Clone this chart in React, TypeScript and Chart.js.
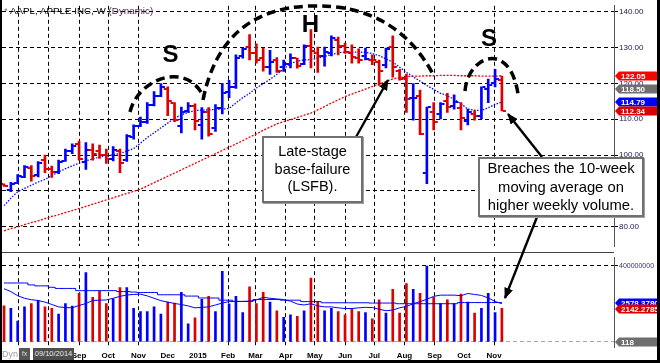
import React, { useEffect, useRef } from 'react';
import { Chart, registerables } from 'chart.js';

Chart.register(...registerables);

// ---------------- data ----------------
const firstWeekUTC = Date.UTC(2014, 5, 16); // week of the first bar
const WEEK_MS = 7 * 24 * 3600 * 1000;

const highs = [
  92.0, 92.4, 94.6, 97.1, 97.1, 98.2, 100.0, 96.9, 98.6, 101.7,
  103.1, 103.9, 103.5, 103.1, 102.8, 101.7, 102.4, 101.7, 105.7, 108.4,
  110.6, 114.6, 117.7, 119.9, 119.0, 114.6, 113.4, 114.6, 114.3, 113.2,
  113.2, 114.1, 120.0, 120.8, 127.9, 129.8, 133.6, 131.0, 129.8, 129.2,
  127.2, 126.5, 128.2, 127.0, 130.7, 135.0, 130.1, 130.1, 133.2, 132.9,
  131.2, 130.7, 129.6, 129.8, 127.9, 126.5, 129.8, 133.2, 123.9, 122.5,
  119.9, 118.1, 113.4, 114.6, 114.6, 117.2, 116.8, 114.6, 112.8, 112.4,
  119.0, 121.2, 123.9, 122.0,
];
const lows = [
  91.3, 89.8, 92.0, 93.7, 92.7, 93.9, 95.1, 93.8, 94.8, 98.2,
  100.4, 98.6, 96.0, 98.6, 99.1, 97.7, 98.4, 95.1, 98.2, 104.4,
  107.9, 108.8, 113.7, 116.3, 111.0, 109.3, 106.2, 111.9, 107.0, 104.4,
  105.3, 106.6, 111.5, 116.0, 118.6, 127.0, 126.5, 125.6, 123.4, 122.5,
  123.0, 123.3, 124.3, 124.2, 125.2, 124.3, 123.0, 124.8, 127.6, 127.9,
  128.3, 125.6, 125.6, 126.5, 125.2, 119.4, 124.3, 121.7, 120.9, 111.9,
  109.7, 105.7, 92.0, 107.0, 110.1, 111.9, 112.8, 107.0, 108.4, 109.7,
  110.1, 114.6, 119.0, 112.3,
];
const opens = [
  91.9, 90.4, 92.3, 94.0, 96.5, 94.5, 98.5, 96.0, 95.4, 98.4,
  101.0, 103.0, 98.0, 101.5, 101.0, 100.0, 99.0, 101.0, 98.5, 105.0,
  108.2, 109.3, 114.0, 116.6, 118.5, 114.5, 108.0, 112.2, 113.6, 108.5,
  112.0, 107.5, 113.0, 117.5, 119.0, 127.5, 130.0, 128.5, 127.0, 124.5,
  126.5, 124.5, 125.5, 127.0, 125.5, 130.5, 128.5, 127.5, 128.5, 132.0,
  130.5, 128.5, 127.0, 127.5, 126.5, 126.0, 125.0, 130.0, 123.5, 121.5,
  116.0, 116.5, 94.9, 112.0, 111.5, 115.0, 113.7, 113.0, 109.5, 111.5,
  111.0, 118.5, 120.0, 121.0,
];
const closes = [
  91.5, 92.0, 94.2, 96.6, 94.3, 97.7, 96.0, 95.3, 98.0, 101.2,
  102.6, 99.0, 101.3, 100.2, 100.0, 99.0, 101.4, 97.7, 105.2, 108.0,
  109.2, 114.0, 116.5, 118.9, 115.0, 109.8, 112.0, 113.6, 109.4, 112.0,
  106.0, 113.0, 117.2, 119.0, 127.1, 129.5, 128.5, 126.6, 124.5, 125.9,
  123.3, 125.3, 127.1, 124.8, 130.3, 129.0, 127.6, 128.8, 132.5, 130.3,
  128.7, 127.2, 126.6, 126.8, 126.4, 123.3, 129.6, 124.5, 121.3, 115.5,
  116.0, 105.8, 113.3, 109.3, 114.2, 113.5, 114.7, 110.4, 112.1, 111.0,
  119.0, 119.5, 121.1, 112.34,
];
const ma10 = [
  85.9, 88.0, 89.8, 90.7, 91.6, 92.5, 93.2, 94.3, 95.3, 96.2,
  97.0, 97.7, 98.4, 98.9, 99.5, 99.8, 100.1, 100.4, 101.1, 101.8,
  103.3, 104.9, 106.2, 107.6, 108.9, 110.3, 111.2, 111.9, 112.4, 112.5,
  112.6, 112.7, 112.8, 113.0, 114.5, 116.0, 117.2, 118.7, 119.9, 121.1,
  122.5, 124.0, 125.5, 126.2, 126.5, 126.6, 127.0, 127.5, 128.0, 128.5,
  128.7, 128.7, 128.7, 128.6, 128.3, 127.7, 126.8, 125.9, 124.5, 123.0,
  121.8, 120.6, 119.4, 118.3, 117.2, 116.6, 115.5, 114.3, 112.8, 112.5,
  112.4, 113.2, 114.1, 114.79,
];
const ma40 = [
  78.9, 79.5, 80.0, 80.6, 81.2, 81.7, 82.3, 82.9, 83.4, 84.0,
  84.5, 85.1, 85.7, 86.3, 86.9, 87.5, 88.1, 88.7, 89.3, 89.9,
  90.5, 91.4, 92.3, 93.2, 94.1, 95.0, 95.9, 96.8, 97.7, 98.6,
  99.5, 100.4, 101.3, 102.2, 103.1, 104.0, 105.0, 105.9, 106.9, 107.8,
  108.7, 109.3, 109.9, 110.5, 111.1, 111.7, 112.6, 113.5, 114.5, 115.4,
  116.3, 117.0, 117.7, 118.4, 119.1, 119.8, 120.5, 121.2, 121.6, 121.8,
  122.0, 122.0, 122.1, 122.1, 122.2, 122.2, 122.2, 122.1, 122.1, 122.1,
  122.0, 122.0, 122.0, 122.05,
];
// weekly volume, millions of shares
const volumes = [
  190, 176, 109, 184, 201, 218, 184, 176, 146, 201,
  189, 256, 365, 234, 268, 201, 226, 285, 285, 176,
  159, 159, 184, 146, 209, 204, 260, 95, 126, 224,
  239, 159, 371, 200, 239, 154, 290, 201, 260, 209,
  164, 129, 143, 134, 164, 335, 214, 164, 176, 159,
  143, 176, 159, 154, 121, 221, 151, 276, 151, 306,
  276, 256, 399, 234, 201, 221, 201, 251, 209, 151,
  176, 256, 154, 176,
];
const volAvgFast = [
  279.5, 264.5, 242.9, 229.4, 221.8, 217.8, 209.3, 196.7, 184.2, 180.7,
  179.2, 191.7, 201.8, 217.8, 219.3, 220.8, 229.4, 239.4, 246.9, 249.4,
  250.9, 241.9, 229.4, 216.8, 209.3, 201.8, 196.7, 189.2, 179.2, 181.7,
  184.2, 194.2, 204.3, 211.8, 212.8, 212.8, 214.3, 220.8, 234.4, 229.4,
  225.8, 222.8, 214.3, 199.2, 194.2, 200.8, 189.2, 184.2, 184.2, 179.2,
  175.7, 175.7, 179.2, 181.7, 180.7, 171.6, 164.1, 167.6, 179.2, 186.7,
  200.8, 211.8, 224.3, 239.4, 245.9, 245.9, 245.9, 242.9, 254.5, 249.4,
  244.4, 230.9, 212.8, 200.8,
];
const volAvgSlow = [
  309.7, 309.7, 309.7, 309.7, 299.6, 294.6, 294.6, 287.1, 281.0, 281.0,
  281.0, 269.5, 269.5, 269.5, 269.5, 269.5, 269.5, 264.5, 264.5, 262.0,
  259.5, 259.5, 259.5, 247.9, 247.9, 247.9, 247.9, 240.9, 240.9, 230.9,
  230.9, 230.9, 219.3, 219.3, 212.8, 212.8, 212.8, 222.8, 222.8, 222.8,
  222.8, 219.3, 219.3, 219.3, 211.8, 211.8, 211.8, 205.8, 205.8, 205.8,
  205.8, 205.8, 205.8, 205.8, 204.3, 204.3, 204.3, 204.3, 200.8, 200.8,
  200.8, 200.8, 200.8, 200.8, 200.8, 200.8, 200.8, 206.8, 206.8, 206.8,
  206.8, 206.8, 206.8, 206.8,
];

const monthStarts = [
  [2014, 6], [2014, 7], [2014, 8], [2014, 9], [2014, 10], [2014, 11],
  [2015, 0], [2015, 1], [2015, 2], [2015, 3], [2015, 4], [2015, 5],
  [2015, 6], [2015, 7], [2015, 8], [2015, 9], [2015, 10],
];
const monthLabels = ['', '', 'Sep', 'Oct', 'Nov', 'Dec', '2015', 'Feb', 'Mar', 'Apr', 'May', 'Jun', 'Jul', 'Aug', 'Sep', 'Oct', 'Nov'];
const monthHasGrid = [1, 1, 1, 1, 1, 0, 0, 1, 1, 1, 1, 1, 1, 1, 1, 0, 1];

const priceTicks = [80, 90, 100, 110, 120, 130, 140];
const volumeTicks = [0, 400];

const priceFlags = [
  { value: 122.05, text: '122.05', color: '#ff0000' },
  { value: 118.5, text: '118.50', color: '#6e6e6e' },
  { value: 114.79, text: '114.79', color: '#0000ff' },
  { value: 112.34, text: '112.34', color: '#dd0000' },
];
const volumeFlags = [
  { value: 204, text: '2578.3780', color: '#0000ff' },
  { value: 174, text: '2142.2785', color: '#dd0000' },
  { value: 0, text: '118', color: '#6e6e6e' },
];

// ---------------- styling helpers ----------------
const FONT = "'Liberation Sans', Arial, sans-serif";
const UP = '#0000ff';
const DOWN = '#dd0000';
const barColors = closes.map((c, i) =>
  i === 0 ? (c >= opens[0] ? UP : DOWN) : c >= closes[i - 1] ? UP : DOWN
);
const monthTicks = monthStarts.map(([y, m]) => (Date.UTC(y, m, 1) - firstWeekUTC) / WEEK_MS);

const X_MIN = -0.3;
const X_MAX = 89.44;

function xScale(showLabels: boolean): any {
  return {
    type: 'linear',
    min: X_MIN,
    max: X_MAX,
    offset: false,
    afterBuildTicks: (s: any) => {
      s.ticks = monthTicks.map((v) => ({ value: v }));
    },
    afterFit: (s: any) => {
      s.height = showLabels ? 13 : 0;
    },
    ticks: {
      display: showLabels,
      autoSkip: false,
      maxRotation: 0,
      minRotation: 0,
      padding: 4,
      color: '#000',
      font: { family: FONT, size: 8, weight: 'bold' },
      callback: (_v: any, i: number) => monthLabels[i],
    },
    grid: {
      color: (c: any) => (monthHasGrid[c.index] ? '#000' : 'rgba(0,0,0,0)'),
      lineWidth: 1,
      drawTicks: false,
      offset: false,
    },
    border: { display: false, dash: [4, 3] },
  };
}

function flagPlugin(flags: any[]) {
  return {
    id: 'flags',
    afterDraw(chart: any) {
      const { ctx } = chart;
      const y = chart.scales.y;
      const x0 = chart.chartArea.right + 1;
      ctx.save();
      flags.forEach((f) => {
        const py = Math.round(y.getPixelForValue(f.value));
        ctx.fillStyle = f.color;
        ctx.beginPath();
        ctx.moveTo(x0, py);
        ctx.lineTo(x0 + 4, py - 4.5);
        ctx.lineTo(chart.width, py - 4.5);
        ctx.lineTo(chart.width, py + 4.5);
        ctx.lineTo(x0 + 4, py + 4.5);
        ctx.closePath();
        ctx.fill();
        ctx.fillStyle = '#fff';
        ctx.font = `bold 8px ${FONT}`;
        ctx.textBaseline = 'middle';
        ctx.textAlign = 'left';
        ctx.fillText(f.text, x0 + 6, py + 0.5);
      });
      ctx.restore();
    },
  };
}

const ohlcTicksPlugin = {
  id: 'ohlcTicks',
  afterDatasetsDraw(chart: any) {
    const { ctx } = chart;
    const x = chart.scales.x;
    const y = chart.scales.y;
    ctx.save();
    for (let i = 0; i < closes.length; i++) {
      const px = x.getPixelForValue(i);
      ctx.fillStyle = barColors[i];
      const yo = Math.round(y.getPixelForValue(opens[i]));
      const yc = Math.round(y.getPixelForValue(closes[i]));
      ctx.fillRect(px - 4, yo - 1, 3, 2);
      ctx.fillRect(px + 1, yc - 1, 3, 2);
    }
    ctx.restore();
  },
};

const separatorPlugin = {
  id: 'separator',
  afterDraw(chart: any) {
    const { ctx } = chart;
    ctx.save();
    ctx.fillStyle = '#444';
    ctx.fillRect(0, 0, chart.chartArea.right, 1);
    ctx.restore();
  },
};

function priceConfig(): any {
  return {
    type: 'bar',
    data: {
      datasets: [
        {
          type: 'bar',
          data: highs.map((h, i) => ({ x: i, y: [lows[i], h] })),
          backgroundColor: barColors,
          barThickness: 2,
          order: 0,
        },
        {
          type: 'line',
          data: ma10.map((v, i) => ({ x: i, y: v })),
          borderColor: '#0000ff',
          borderWidth: 1.3,
          borderDash: [1.5, 1.5],
          pointRadius: 0,
          tension: 0,
          order: 1,
        },
        {
          type: 'line',
          data: ma40.map((v, i) => ({ x: i, y: v })),
          borderColor: '#ee0000',
          borderWidth: 1.3,
          borderDash: [2, 1.5],
          pointRadius: 0,
          tension: 0,
          order: 1,
        },
      ],
    },
    options: {
      animation: false,
      responsive: false,
      maintainAspectRatio: false,
      events: [],
      layout: { padding: { left: 2, right: 0, top: 0, bottom: 0 }, autoPadding: false },
      plugins: { legend: { display: false }, tooltip: { enabled: false } },
      scales: {
        x: xScale(false),
        y: {
          position: 'right',
          min: 74.609,
          max: 141.595,
          afterBuildTicks: (s: any) => {
            s.ticks = priceTicks.map((v) => ({ value: v }));
          },
          afterFit: (s: any) => {
            s.width = 46;
          },
          ticks: {
            callback: (v: any) => Number(v).toFixed(2),
            font: { family: FONT, size: 8 },
            color: '#1a1a50',
            padding: 1,
          },
          grid: { color: '#000', lineWidth: 1, tickLength: 4, tickColor: '#000', drawTicks: true },
          border: { display: true, color: '#555', width: 1, dash: [4, 3] },
        },
      },
    },
    plugins: [ohlcTicksPlugin, flagPlugin(priceFlags)],
  };
}

function volumeConfig(): any {
  return {
    type: 'bar',
    data: {
      datasets: [
        {
          type: 'bar',
          data: volumes.map((v, i) => ({ x: i, y: v })),
          backgroundColor: barColors,
          barThickness: 2,
          order: 1,
        },
        {
          type: 'line',
          data: volAvgSlow.map((v, i) => ({ x: i, y: v })),
          borderColor: '#0000ff',
          borderWidth: 1,
          stepped: 'middle',
          pointRadius: 0,
          order: 0,
        },
        {
          type: 'line',
          data: volAvgFast.map((v, i) => ({ x: i, y: v })),
          borderColor: '#0000ff',
          borderWidth: 1,
          pointRadius: 0,
          tension: 0,
          order: 0,
        },
      ],
    },
    options: {
      animation: false,
      responsive: false,
      maintainAspectRatio: false,
      events: [],
      layout: { padding: { left: 2, right: 0, top: 1, bottom: 0 }, autoPadding: false },
      plugins: { legend: { display: false }, tooltip: { enabled: false } },
      scales: {
        x: xScale(true),
        y: {
          position: 'right',
          min: -26.6,
          max: 445.2,
          afterBuildTicks: (s: any) => {
            s.ticks = volumeTicks.map((v) => ({ value: v }));
          },
          afterFit: (s: any) => {
            s.width = 46;
          },
          ticks: {
            callback: (v: any) => (v === 400 ? '400000000' : ''),
            font: { family: FONT, size: 7 },
            color: '#303080',
            padding: 1,
          },
          grid: {
            color: (c: any) => (c.tick && c.tick.value === 0 ? '#aaaaaa' : '#000'),
            lineWidth: 1,
            tickLength: 4,
            tickColor: (c: any) => (c.tick && c.tick.value === 0 ? 'rgba(0,0,0,0)' : '#000'),
          },
          border: { display: true, color: '#555', width: 1, dash: [4, 3] },
        },
      },
    },
    plugins: [separatorPlugin, flagPlugin(volumeFlags)],
  };
}

const boxStyle: any = {
  position: 'absolute',
  boxSizing: 'border-box',
  background: '#fff',
  border: '2px solid #707070',
  boxShadow: '1px 1px 0 #a0a0a0',
  display: 'flex',
  flexDirection: 'column',
  justifyContent: 'center',
  alignItems: 'center',
  textAlign: 'center',
  color: '#000',
  fontFamily: FONT,
};

export default function App() {
  const priceRef = useRef<HTMLCanvasElement>(null);
  const volRef = useRef<HTMLCanvasElement>(null);

  useEffect(() => {
    const c1 = new Chart(priceRef.current as any, priceConfig());
    const c2 = new Chart(volRef.current as any, volumeConfig());
    return () => {
      c1.destroy();
      c2.destroy();
    };
  }, []);

  return (
    <div
      style={{
        position: 'fixed',
        left: 0,
        top: 0,
        width: 660,
        height: 363,
        background: '#fff',
        overflow: 'hidden',
        fontFamily: FONT,
      }}
    >
      <canvas ref={priceRef} width={660} height={252} style={{ position: 'absolute', left: 0, top: 0, width: 660, height: 252 }} />
      <canvas ref={volRef} width={660} height={108} style={{ position: 'absolute', left: 0, top: 252, width: 660, height: 108 }} />

      {/* title */}
      <div style={{ position: 'absolute', left: 4, top: 5, fontSize: 9.8, lineHeight: '12px', whiteSpace: 'nowrap' }}>
        <span style={{ color: '#777' }}>* </span>
        <span style={{ color: '#000' }}>AAPL, APPLE INC, W </span>
        <span style={{ color: '#4b1f4b' }}>(Dynamic)</span>
      </div>

      {/* hand-drawn annotations */}
      <svg width={660} height={363} style={{ position: 'absolute', left: 0, top: 0, pointerEvents: 'none' }}>
        <defs>
          <marker id="ah" markerUnits="userSpaceOnUse" markerWidth={11} markerHeight={9} refX={10} refY={4.5} orient="auto">
            <path d="M0,0 L11,4.5 L0,9 z" fill="#000" />
          </marker>
        </defs>
        <g fill="none" stroke="#000" strokeWidth={3.5} strokeDasharray="9 5">
          <path d="M130,112 C138,78 188,60 204,98" />
          <path d="M203,100 C215,40 250,8 310,6 C370,4 410,30 434,76" />
          <path d="M465,91 C468,55 510,40 518,94" />
        </g>
        <g stroke="#000" strokeWidth={2.4}>
          <line x1={356} y1={137} x2={388} y2={80} markerEnd="url(#ah)" />
          <line x1={542} y1={157} x2={508} y2={114} markerEnd="url(#ah)" />
          <line x1={537} y1={217} x2={505} y2={298} markerEnd="url(#ah)" />
        </g>
        <g fontFamily={FONT} fontWeight="bold" fontSize={24} textAnchor="middle" fill="#000">
          <text x={170.5} y={62}>S</text>
          <text x={310.5} y={32}>H</text>
          <text x={489} y={46}>S</text>
        </g>
      </svg>

      {/* callout boxes */}
      <div style={{ ...boxStyle, left: 262, top: 136, width: 101, height: 67, fontSize: 14.5, lineHeight: '17.5px' }}>
        <div>Late-stage</div>
        <div>base-failure</div>
        <div>(LSFB).</div>
      </div>
      <div style={{ ...boxStyle, left: 478, top: 157, width: 166, height: 60, fontSize: 14.8, lineHeight: '18.5px' }}>
        <div>Breaches the 10-week</div>
        <div>moving average on</div>
        <div>higher weekly volume.</div>
      </div>

      {/* bottom-left status strip */}
      <div style={{ position: 'absolute', left: 2, top: 349, fontSize: 9, lineHeight: '10px', color: '#a0a0a0' }}>Dyn</div>
      <div style={{ position: 'absolute', left: 19, top: 348, width: 11, height: 12, background: '#555', color: '#ddd', fontSize: 7, lineHeight: '12px', textAlign: 'center' }}>fx</div>
      <div style={{ position: 'absolute', left: 33, top: 348, width: 41, height: 14, background: '#4d4d4d', color: '#e8e8e8', fontSize: 7.5, lineHeight: '12px', textAlign: 'center' }}>09/10/2014</div>

      {/* frame */}
      <div style={{ position: 'absolute', left: 0, top: 0, width: 2, height: 363, background: '#000' }} />
      <div style={{ position: 'absolute', left: 657, top: 0, width: 3, height: 363, background: '#000' }} />
      <div style={{ position: 'absolute', left: 0, top: 360, width: 660, height: 3, background: '#000' }} />
    </div>
  );
}
